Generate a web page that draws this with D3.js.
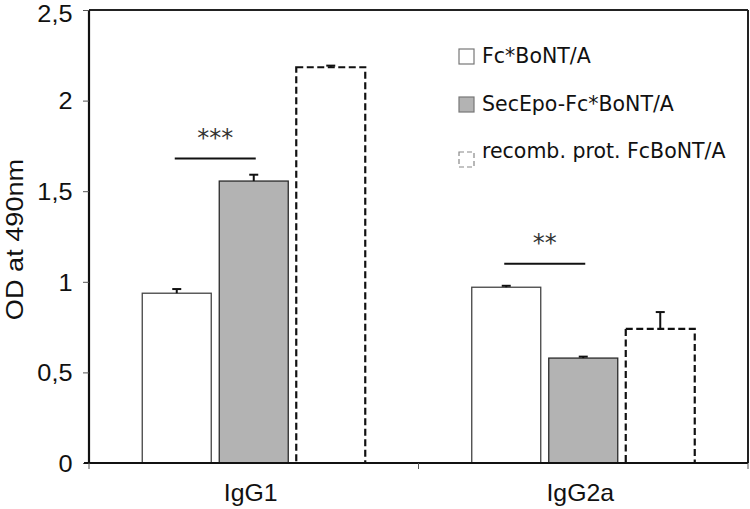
<!DOCTYPE html>
<html><head><meta charset="utf-8">
<script src="https://cdn.jsdelivr.net/npm/d3@7/dist/d3.min.js"></script>
<style>
html,body{margin:0;padding:0;background:#fff;}
svg{display:block;}
</style></head>
<body>
<svg id="chart" width="750" height="509"></svg>
<script>
// ---- data ----
const categories = ["IgG1", "IgG2a"];
const seriesNames = ["Fc*BoNT/A", "SecEpo-Fc*BoNT/A", "recomb. prot. FcBoNT/A"];
const fcValues      = [0.937, 0.970];
const secEpoValues  = [1.556, 0.579];
const recombValues  = [2.184, 0.740];
const fcErrors      = [0.023, 0.008];
const secEpoErrors  = [0.035, 0.008];
const recombErrors  = [0.009, 0.093];
const yTicks = [0, 0.5, 1, 1.5, 2, 2.5];
const yTickLabels = ["0", "0,5", "1", "1,5", "2", "2,5"];
const sigCategories = ["IgG1", "IgG2a"];
const sigLevels = [1.68, 1.10];
const sigLabels = ["***", "**"];
const yLabel = "OD at 490nm";

const seriesValues = [fcValues, secEpoValues, recombValues];
const seriesErrors = [fcErrors, secEpoErrors, recombErrors];

// ---- layout ----
const svg = d3.select("#chart");
const pL = 89, pR = 748, pT = 10, pB = 463;

const y = d3.scaleLinear().domain([0, 2.5]).range([pB, pT]);
const x0 = d3.scaleBand().domain(categories).range([pL, pR]).padding(0);
const x1 = d3.scaleBand().domain(seriesNames).range([0, 223]).paddingInner(0.104).paddingOuter(0);
const groupStart = c => x0(c) + x0.bandwidth() / 2 - 111.5;

const styles = [
  {fill: "#ffffff", stroke: "#444444", width: 1.3, dash: null},
  {fill: "#b3b3b3", stroke: "#2a2a2a", width: 1.3, dash: null},
  {fill: "#ffffff", stroke: "#111111", width: 2.2, dash: "7,3.5"}
];

// frame top/right
svg.append("line").attr("x1", pL).attr("x2", pR).attr("y1", pT).attr("y2", pT)
  .attr("stroke", "#222").attr("stroke-width", 1.8);
svg.append("line").attr("x1", pR).attr("x2", pR).attr("y1", pT).attr("y2", pB)
  .attr("stroke", "#222").attr("stroke-width", 2);

// bars
const rows = [];
categories.forEach((c, ci) => {
  seriesNames.forEach((s, si) => {
    rows.push({c, s, si, v: seriesValues[si][ci], e: seriesErrors[si][ci]});
  });
});

const g = svg.append("g");
g.selectAll("rect.bar").data(rows).enter().append("rect")
  .attr("class", "bar")
  .attr("x", d => groupStart(d.c) + x1(d.s))
  .attr("y", d => y(d.v))
  .attr("width", x1.bandwidth())
  .attr("height", d => y(0) - y(d.v))
  .attr("fill", d => styles[d.si].fill)
  .attr("stroke", d => styles[d.si].stroke)
  .attr("stroke-width", d => styles[d.si].width)
  .attr("stroke-dasharray", d => styles[d.si].dash);

// error bars (upper only)
const eb = g.selectAll("g.err").data(rows).enter().append("g").attr("class", "err");
eb.append("line")
  .attr("x1", d => groupStart(d.c) + x1(d.s) + x1.bandwidth() / 2)
  .attr("x2", d => groupStart(d.c) + x1(d.s) + x1.bandwidth() / 2)
  .attr("y1", d => y(d.v)).attr("y2", d => y(d.v + d.e))
  .attr("stroke", "#111").attr("stroke-width", 2);
eb.append("line")
  .attr("x1", d => groupStart(d.c) + x1(d.s) + x1.bandwidth() / 2 - 4.5)
  .attr("x2", d => groupStart(d.c) + x1(d.s) + x1.bandwidth() / 2 + 4.5)
  .attr("y1", d => y(d.v + d.e)).attr("y2", d => y(d.v + d.e))
  .attr("stroke", "#111").attr("stroke-width", 2);

// significance
sigCategories.forEach((c, i) => {
  const xa = groupStart(c) + x1(seriesNames[0]) + x1.bandwidth() / 2 - 2;
  const xb = groupStart(c) + x1(seriesNames[1]) + x1.bandwidth() / 2 + 2;
  svg.append("line").attr("x1", xa).attr("x2", xb)
    .attr("y1", y(sigLevels[i])).attr("y2", y(sigLevels[i]))
    .attr("stroke", "#111").attr("stroke-width", 2);
  svg.append("text").attr("x", (xa + xb) / 2).attr("y", y(sigLevels[i]) - 13)
    .attr("text-anchor", "middle")
    .attr("font-family", "DejaVu Sans, Verdana, sans-serif")
    .attr("font-size", 24).attr("fill", "#333")
    .text(sigLabels[i]);
});

// y axis
const yAxis = d3.axisLeft(y).tickValues(yTicks)
  .tickFormat((d, i) => yTickLabels[i]).tickSize(6).tickPadding(9);
const ya = svg.append("g").attr("transform", `translate(${pL},0)`).call(yAxis);
ya.select(".domain").attr("stroke", "#111").attr("stroke-width", 2.2)
  .attr("d", `M0,${pT}V${pB}`);
ya.selectAll(".tick line").attr("stroke", "#555").attr("stroke-width", 1);
ya.selectAll(".tick text").attr("font-family", "Liberation Sans, Arial, sans-serif")
  .attr("font-size", 23).attr("fill", "#111")
  .attr("transform", "scale(1.1,1)")
  .attr("dy", d => d === 2.5 ? "0.48em" : "0.36em");

// x axis
const xa = svg.append("g").attr("transform", `translate(0,${pB})`);
xa.append("line").attr("x1", pL - 5).attr("x2", pR).attr("y1", 0).attr("y2", 0)
  .attr("stroke", "#111").attr("stroke-width", 2.2);
[pL, x0("IgG2a"), pR].forEach(xx => {
  xa.append("line").attr("x1", xx).attr("x2", xx).attr("y1", 0).attr("y2", 6)
    .attr("stroke", "#555").attr("stroke-width", 1);
});
xa.selectAll("text.cat").data(categories).enter().append("text")
  .attr("class", "cat")
  .attr("transform", d => `translate(${x0(d) + x0.bandwidth() / 2 - 3},38) scale(1.08,1)`)
  .attr("text-anchor", "middle")
  .attr("font-family", "Liberation Sans, Arial, sans-serif")
  .attr("font-size", 23).attr("fill", "#111")
  .text(d => d);

// y label
svg.append("text")
  .attr("transform", `translate(23,${(pT + pB) / 2 + 3}) rotate(-90) scale(1.18,1)`)
  .attr("text-anchor", "middle")
  .attr("font-family", "Liberation Sans, Arial, sans-serif")
  .attr("font-size", 23).attr("fill", "#111")
  .text(yLabel);

// legend
const legendBase = [63, 111, 158];
const lg = svg.append("g");
seriesNames.forEach((s, i) => {
  const boxY = i === 2 ? 152 : legendBase[i] - 14;
  lg.append("rect").attr("x", 459).attr("y", boxY).attr("width", 15).attr("height", 15)
    .attr("fill", styles[i].fill)
    .attr("stroke", i === 2 ? "#888" : "#777")
    .attr("stroke-width", 1.2)
    .attr("stroke-dasharray", i === 2 ? "5,3" : null);
  lg.append("text").attr("x", 482).attr("y", legendBase[i])
    .attr("font-family", "DejaVu Sans, Verdana, sans-serif")
    .attr("font-size", 20.5).attr("fill", "#111")
    .text(s);
});
</script>
</body></html>
